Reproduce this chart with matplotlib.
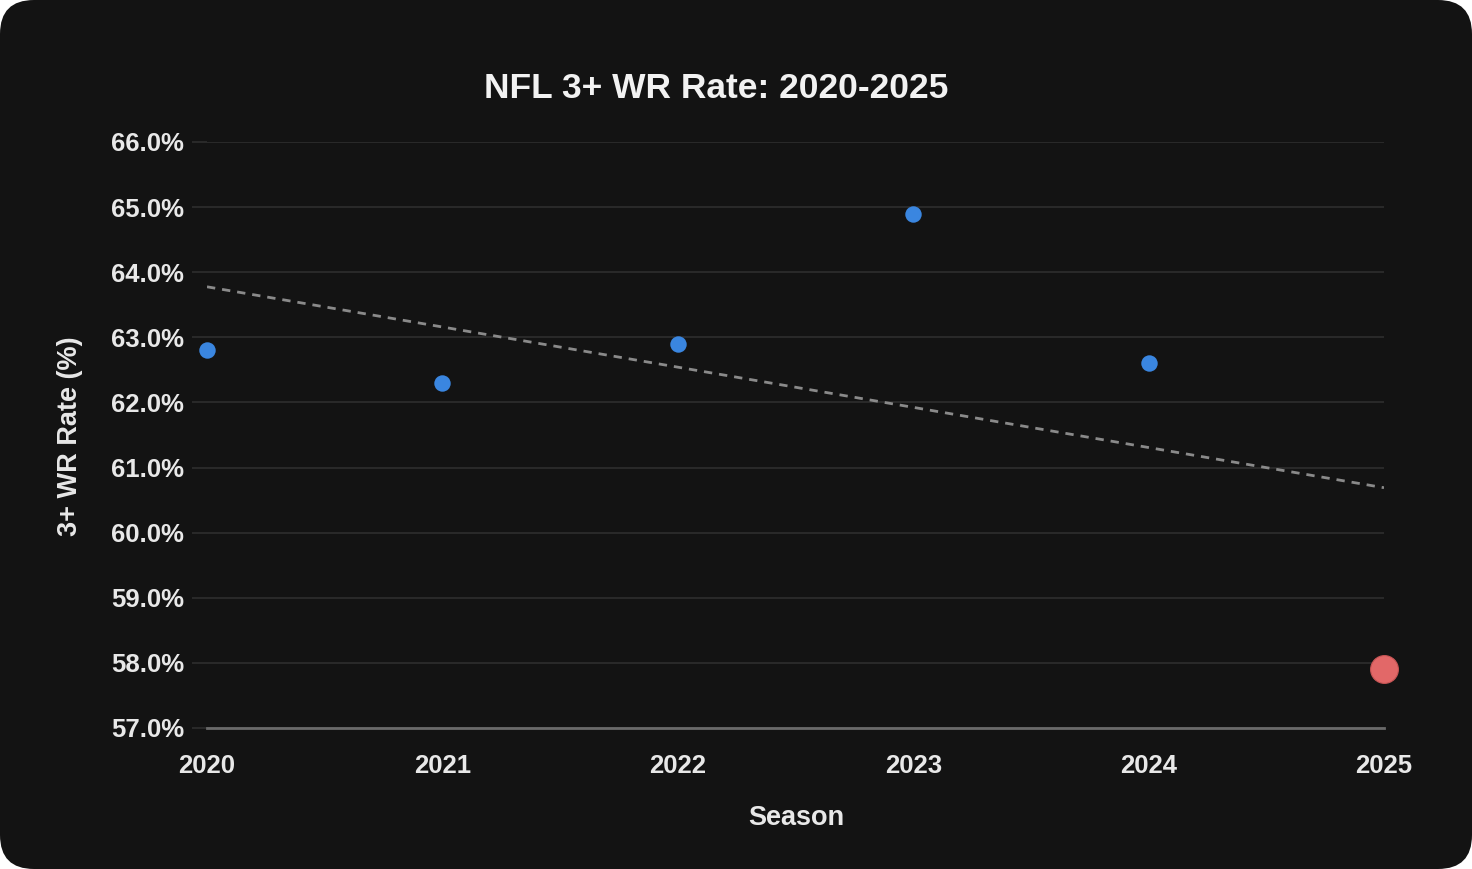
import numpy as np
import matplotlib
matplotlib.use('Agg')
from matplotlib import pyplot as plt
from matplotlib.patches import FancyBboxPatch
from matplotlib.transforms import IdentityTransform
from matplotlib.ticker import FuncFormatter

seasons = [2020, 2021, 2022, 2023, 2024]
rates = [62.8, 62.3, 62.9, 64.9, 62.6]
current_season = 2025
current_rate = 57.9
y_ticks = [57, 58, 59, 60, 61, 62, 63, 64, 65, 66]

bg = '#131313'
text_col = '#e8e8e8'
plt.rcParams['font.family'] = ['Liberation Sans', 'DejaVu Sans']

fig = plt.figure(figsize=(14.72, 8.69), dpi=100)
fig.patch.set_facecolor('white')
fig.patches.append(FancyBboxPatch((0, 0), 1472, 869, boxstyle='round,pad=0,rounding_size=34',
                                  transform=IdentityTransform(), fc=bg, ec='none', zorder=-10))

ax = fig.add_axes([207 / 1472, 1 - 728 / 869, (1384 - 207) / 1472, (728 - 142) / 869])
ax.set_facecolor(bg)
ax.patch.set_alpha(0)

# trend over all six seasons
all_x = np.array(seasons + [current_season])
all_y = np.array(rates + [current_rate])
slope, icpt = np.polyfit(all_x - all_x[0], all_y, 1)
trend = icpt + slope * (all_x - all_x[0])
ax.plot(all_x, trend, color='#8a8a8a', lw=2.0, dashes=(3.0, 2.5), zorder=3)

ax.scatter(seasons, rates, s=140, color='#3a86e0', zorder=4, clip_on=False, linewidths=0)
ax.scatter([current_season], [current_rate], s=400, color='#e26868', zorder=5, clip_on=False,
           edgecolors='#c85555', linewidths=0.8)

ax.set_xlim(2020, 2025)
ax.set_ylim(57, 66)
ax.set_yticks(y_ticks)
ax.set_xticks(all_x)
ax.yaxis.set_major_formatter(FuncFormatter(lambda v, p: f'{v:.1f}%'))
ax.grid(axis='y', color='#2c2c2c', lw=1.3)
ax.set_axisbelow(True)
for s in ['top', 'right', 'left']:
    ax.spines[s].set_visible(False)
ax.spines['bottom'].set_color('#6a6a6a')
ax.spines['bottom'].set_linewidth(2)
ax.tick_params(axis='y', length=11, color='#2c2c2c', width=1.3, pad=5.5,
               labelsize=18.5, labelcolor=text_col)
ax.tick_params(axis='x', length=0, pad=18.5, labelsize=18.5, labelcolor=text_col)
for lbl in ax.get_xticklabels() + ax.get_yticklabels():
    lbl.set_fontweight('bold')

fig.text(716 / 1472, 1 - 88 / 869, 'NFL 3+ WR Rate: 2020-2025', ha='center', va='center',
         fontsize=25.5, fontweight='bold', color='#f2f2f2')
fig.text(70 / 1472, 1 - 436 / 869, '3+ WR Rate (%)', ha='center', va='center', rotation=90,
         fontsize=19.5, fontweight='bold', color=text_col)
fig.text(796 / 1472, 1 - 818 / 869, 'Season', ha='center', va='center',
         fontsize=19.5, fontweight='bold', color=text_col)

fig.savefig('out.png', dpi=100, facecolor=fig.get_facecolor())
